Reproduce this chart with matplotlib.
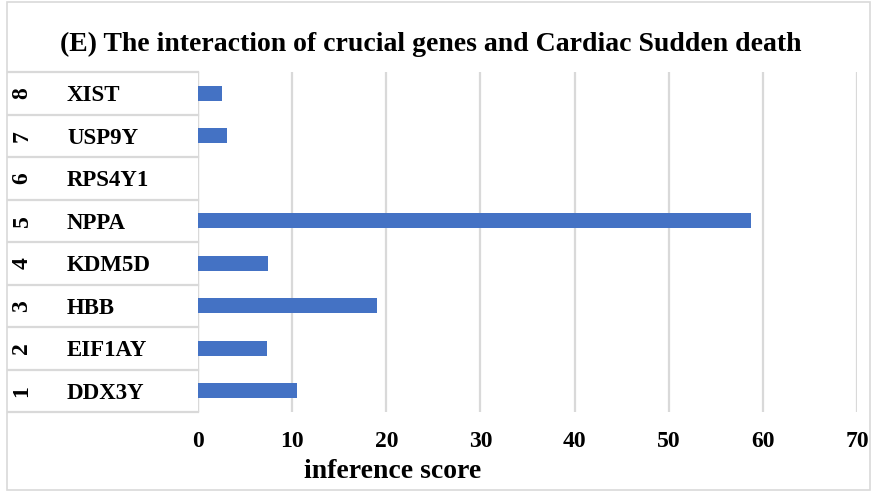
import matplotlib.pyplot as plt
import matplotlib.transforms as mtransforms
from matplotlib.patches import Rectangle

ranks = ["1", "2", "3", "4", "5", "6", "7", "8"]
genes = ["DDX3Y", "EIF1AY", "HBB", "KDM5D", "NPPA", "RPS4Y1", "USP9Y", "XIST"]
scores = [10.5, 7.3, 19.0, 7.4, 58.7, 0.0, 3.1, 2.5]
xticks = [0, 10, 20, 30, 40, 50, 60, 70]

W, H = 873, 492
plt.rcParams['font.family'] = ['Liberation Serif', 'DejaVu Serif']
plt.rcParams['font.weight'] = 'bold'

fig = plt.figure(figsize=(W / 100, H / 100), dpi=100)
ax = fig.add_axes([198 / W, 1 - 412 / H, (857 - 198) / W, (412 - 72) / H])

pos = list(range(len(genes)))
ax.barh(pos, scores, height=0.36, color="#4472C4", zorder=3)

ax.set_xlim(0, 70)
ax.set_ylim(-0.5, len(genes) - 0.5)
ax.set_xticks(xticks)
ax.set_xticklabels([str(t) for t in xticks], fontsize=17, fontweight='bold')
ax.tick_params(axis='x', length=0, pad=14)
ax.set_yticks([])
ax.grid(axis='x', color="#d9d9d9", linewidth=1.6, zorder=0)
for s in ax.spines.values():
    s.set_visible(False)
ax.axvline(0, color="#d9d9d9", linewidth=1.6, zorder=1)

# category table on the left
tr = mtransforms.blended_transform_factory(fig.transFigure, ax.transData)
for i in range(len(genes) + 1):
    y = i - 0.5
    ax.plot([8 / W, 198 / W], [y, y], transform=tr, color="#d9d9d9",
            linewidth=1.6, clip_on=False)
for i, (r, g) in enumerate(zip(ranks, genes)):
    ax.text(22 / W, i, r, transform=tr, rotation=90, ha='center', va='center',
            fontsize=17, fontweight='bold')
    ax.text(67 / W, i, g, transform=tr, ha='left', va='center_baseline',
            fontsize=16.5, fontweight='bold')

fig.text(431 / W, 1 - 44 / H,
         "(E) The interaction of crucial genes and Cardiac Sudden death",
         ha='center', va='center', fontsize=20, fontweight='bold')
fig.text(393 / W, 1 - 472 / H, "inference score", ha='center', va='center',
         fontsize=20, fontweight='bold')

# chart border
fig.patches.append(Rectangle((7 / W, 2 / H), (870 - 7) / W, (490 - 2) / H,
                             transform=fig.transFigure, fill=False,
                             edgecolor="#d9d9d9", linewidth=1.2))

fig.savefig("out.png", dpi=100)
